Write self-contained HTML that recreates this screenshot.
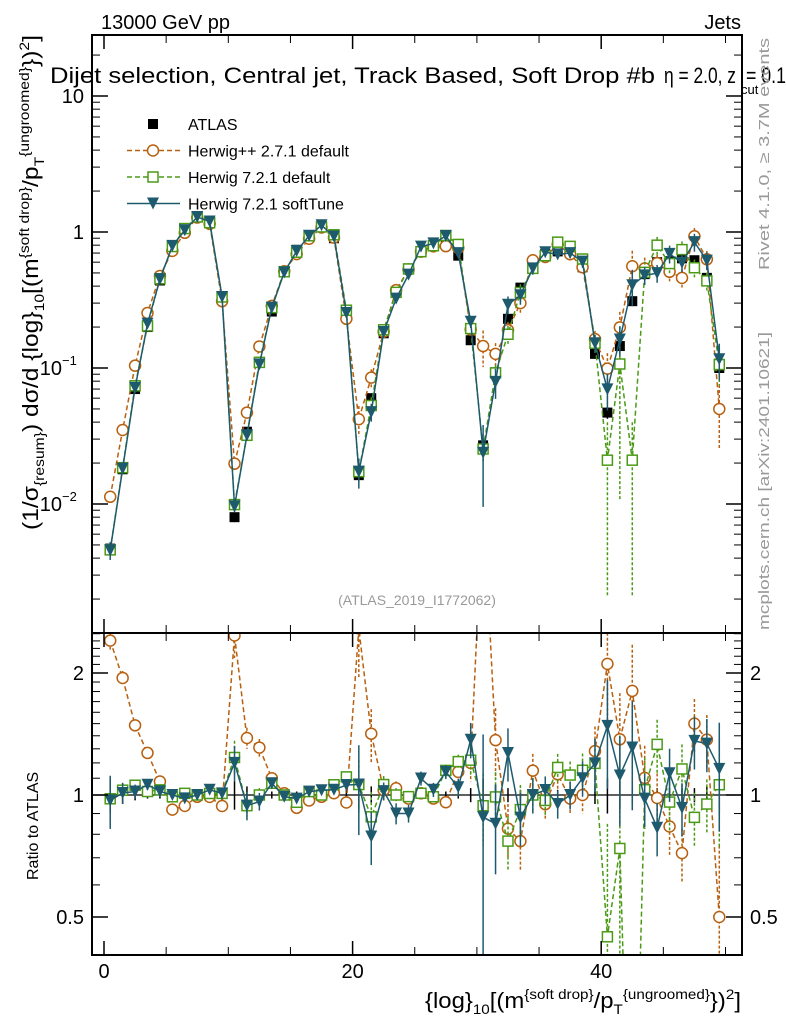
<!DOCTYPE html>
<html><head><meta charset="utf-8"><style>
html,body{margin:0;padding:0;background:#fff;overflow:hidden;width:786px;height:1024px;}
svg{display:block;font-family:"Liberation Sans",sans-serif;}
</style></head><body>
<svg id="chart" width="786" height="1024" viewBox="0 0 786 1024" xmlns="http://www.w3.org/2000/svg">
<defs>
<clipPath id="cm"><rect x="92" y="35" width="650" height="598"/></clipPath>
<clipPath id="cr"><rect x="92" y="633" width="650" height="322"/></clipPath>
</defs>
<g id="grid"></g>
<g id="mainMarks" clip-path="url(#cm)"></g>
<g id="ratioMarks" clip-path="url(#cr)"></g>
<rect x="92" y="35" width="650" height="598" fill="none" stroke="#000" stroke-width="2"/>
<rect x="92" y="633" width="650" height="322" fill="none" stroke="#000" stroke-width="2"/>
<g id="axes"></g>
<text x="101" y="29" font-size="20">13000 GeV pp</text>
<text x="741" y="29" font-size="20" text-anchor="end">Jets</text>
<text x="50" y="83" font-size="22" textLength="605" lengthAdjust="spacingAndGlyphs">Dijet selection, Central jet, Track Based, Soft Drop #b</text>
<text x="664" y="83" font-size="22" textLength="72" lengthAdjust="spacingAndGlyphs">η = 2.0, z</text>
<text x="741" y="94" font-size="13">cut</text>
<text x="746" y="83" font-size="22" textLength="40" lengthAdjust="spacingAndGlyphs">= 0.1</text>
<text x="417" y="605" font-size="14" fill="#999" text-anchor="middle">(ATLAS_2019_I1772062)</text>
<text transform="translate(769,270) rotate(-90)" font-size="15" fill="#999" textLength="232" lengthAdjust="spacingAndGlyphs">Rivet 4.1.0, ≥ 3.7M events</text>
<text transform="translate(769,630) rotate(-90)" font-size="15" fill="#999" textLength="298" lengthAdjust="spacingAndGlyphs">mcplots.cern.ch [arXiv:2401.10621]</text>
<text transform="translate(38,530) rotate(-90)" font-size="22" textLength="495" lengthAdjust="spacingAndGlyphs">(1/σ<tspan font-size="14" dy="6">{resum}</tspan><tspan dy="-6">) dσ/d {log}</tspan><tspan font-size="14" dy="6">10</tspan><tspan dy="-6">[(m</tspan><tspan font-size="14" dy="-9">{soft drop}</tspan><tspan dy="9">/p</tspan><tspan font-size="14" dy="6">T</tspan><tspan font-size="14" dy="-15">{ungroomed}</tspan><tspan dy="9">})</tspan><tspan font-size="14" dy="-9">2</tspan><tspan dy="9">]</tspan></text>
<text transform="translate(38,880) rotate(-90)" font-size="16">Ratio to ATLAS</text>
<text x="425" y="1008" font-size="22" textLength="316" lengthAdjust="spacingAndGlyphs">{log}<tspan font-size="14" dy="6">10</tspan><tspan dy="-6">[(m</tspan><tspan font-size="14" dy="-9">{soft drop}</tspan><tspan dy="9">/p</tspan><tspan font-size="14" dy="6">T</tspan><tspan font-size="14" dy="-15">{ungroomed}</tspan><tspan dy="9">})</tspan><tspan font-size="14" dy="-9">2</tspan><tspan dy="9">]</tspan></text>
<g id="legend"></g>
</svg>
<script>
const NS="http://www.w3.org/2000/svg";
const binCenters=[0.5,1.5,2.5,3.5,4.5,5.5,6.5,7.5,8.5,9.5,10.5,11.5,12.5,13.5,14.5,15.5,16.5,17.5,18.5,19.5,20.5,21.5,22.5,23.5,24.5,25.5,26.5,27.5,28.5,29.5,30.5,31.5,32.5,33.5,34.5,35.5,36.5,37.5,38.5,39.5,40.5,41.5,42.5,43.5,44.5,45.5,46.5,47.5,48.5,49.5];
const atlas=[0.0047,0.018,0.07,0.2,0.44,0.79,1.05,1.29,1.16,0.33,0.008,0.034,0.11,0.26,0.51,0.74,0.92,1.09,0.9,0.24,0.0163,0.06,0.18,0.36,0.54,0.71,0.8,0.82,0.67,0.16,0.027,0.093,0.23,0.39,0.54,0.69,0.72,0.70,0.55,0.127,0.047,0.145,0.31,0.49,0.6,0.61,0.64,0.62,0.46,0.1];
const atlasErr=[0.1,0.05,0.03,0.02,0.02,0.02,0.02,0.02,0.02,0.03,0.08,0.05,0.03,0.02,0.02,0.02,0.02,0.02,0.02,0.03,0.08,0.05,0.03,0.02,0.02,0.02,0.02,0.02,0.02,0.04,0.1,0.06,0.04,0.03,0.03,0.03,0.03,0.03,0.03,0.05,0.1,0.08,0.05,0.04,0.04,0.04,0.04,0.04,0.05,0.1];
const herwigPP=[0.0113,0.035,0.104,0.254,0.475,0.727,0.987,1.277,1.148,0.31,0.0198,0.047,0.144,0.286,0.515,0.688,0.892,1.079,0.909,0.23,0.042,0.085,0.185,0.374,0.529,0.717,0.784,0.787,0.764,0.192,0.145,0.127,0.19,0.30,0.62,0.655,0.81,0.686,0.55,0.163,0.099,0.199,0.56,0.54,0.59,0.51,0.46,0.93,0.63,0.05];
const herwigPPErr=[0.05,0.04,0.03,0.03,0.03,0.02,0.02,0.02,0.02,0.03,0.12,0.06,0.05,0.03,0.02,0.02,0.02,0.02,0.02,0.03,0.25,0.15,0.05,0.04,0.03,0.03,0.03,0.03,0.04,0.1,0.3,0.2,0.15,0.15,0.1,0.08,0.08,0.08,0.1,0.15,0.3,0.3,0.3,0.2,0.15,0.15,0.15,0.15,0.15,0.5];
const herwig721=[0.0046,0.0185,0.074,0.204,0.453,0.782,1.06,1.29,1.17,0.333,0.0099,0.032,0.11,0.278,0.51,0.71,0.938,1.09,0.954,0.266,0.0173,0.053,0.191,0.36,0.535,0.717,0.792,0.943,0.81,0.195,0.0254,0.092,0.177,0.359,0.54,0.669,0.842,0.784,0.633,0.152,0.021,0.107,0.021,0.505,0.80,0.586,0.742,0.546,0.437,0.106];
const herwig721Err=[0.05,0.04,0.03,0.03,0.03,0.02,0.02,0.02,0.02,0.03,0.1,0.06,0.04,0.03,0.02,0.02,0.02,0.02,0.02,0.03,0.15,0.15,0.05,0.04,0.03,0.03,0.03,0.03,0.04,0.08,0.2,0.15,0.15,0.15,0.1,0.08,0.08,0.08,0.1,0.15,0.9,0.9,0.9,0.2,0.15,0.15,0.15,0.15,0.15,0.3];
const softTune=[0.00456,0.0182,0.0714,0.212,0.449,0.79,1.03,1.29,1.195,0.333,0.0096,0.032,0.106,0.278,0.505,0.725,0.938,1.12,0.927,0.254,0.0173,0.0474,0.184,0.324,0.486,0.78,0.824,0.935,0.70,0.219,0.0238,0.079,0.292,0.343,0.54,0.71,0.684,0.70,0.605,0.152,0.0696,0.162,0.406,0.48,0.498,0.69,0.595,0.843,0.616,0.116];
const softTuneErr=[0.15,0.06,0.04,0.03,0.03,0.02,0.02,0.02,0.02,0.03,0.1,0.08,0.05,0.03,0.02,0.02,0.02,0.02,0.02,0.03,0.25,0.15,0.05,0.06,0.05,0.04,0.04,0.04,0.05,0.1,0.6,0.25,0.15,0.15,0.1,0.08,0.08,0.08,0.1,0.15,0.3,0.25,0.3,0.15,0.15,0.15,0.15,0.15,0.15,0.3];
const xTicksMajor=[0,20,40];
const xTicksMinor=[5,10,15,25,30,35,45,50];
const mainTickValues=[10,1,0.1,0.01];
const mainTickLabels=["10","1","10","10"];
const mainTickExps=["","","−1","−2"];
const ratioTickValues=[2,1,0.5];
const ratioTickLabels=["2","1","0.5"];

const X=v=>104+12.43*v;
const YM=v=>232-136*Math.log10(v);
const YR=r=>795-122*Math.log2(r);

function mk(tag,attrs,parent){const e=document.createElementNS(NS,tag);for(const k in attrs)e.setAttribute(k,attrs[k]);parent.appendChild(e);return e;}
const axes=document.getElementById('axes');
const mainG=document.getElementById('mainMarks');
const ratioG=document.getElementById('ratioMarks');

[[35,1],[633,1],[633,-1],[955,-1]].forEach(([y,d])=>{
  xTicksMajor.forEach(t=>{const l=mk('line',{x1:X(t),x2:X(t),y1:y,y2:y+d*14,stroke:'#000','stroke-width':1.5},axes);
    });
  xTicksMinor.forEach(t=>{const l=mk('line',{x1:X(t),x2:X(t),y1:y,y2:y+d*8,stroke:'#000','stroke-width':1},axes);
    });
});
xTicksMajor.forEach(t=>{const tx=mk('text',{x:X(t),y:978,'font-size':20,'text-anchor':'middle'},axes);tx.textContent=String(t);
  });
for(let d=-3;d<=1;d++){for(let m=1;m<=9;m++){const v=m*Math.pow(10,d);const y=YM(v);if(y<35||y>633)continue;
  const len=m===1?16:8;
  [[92,1],[742,-1]].forEach(([x,s])=>{const l=mk('line',{x1:x,x2:x+s*len,y1:y,y2:y,stroke:'#000','stroke-width':m===1?1.5:1},axes);
    });}}
mainTickValues.forEach((v,i)=>{const y=YM(v);
  const tx=mk('text',{x:mainTickExps[i]?62:84,y:y+7,'font-size':20,'text-anchor':'end'},axes);tx.textContent=mainTickLabels[i];
  
  if(mainTickExps[i]){const e=mk('text',{x:62,y:y-3,'font-size':13},axes);e.textContent=mainTickExps[i];
    }});
[0.4,0.5,0.6,0.7,0.8,0.9,1,1.1,1.2,1.3,1.4,1.5,1.6,1.7,1.8,1.9,2,2.1,2.2,2.3,2.4,2.5].forEach(v=>{const y=YR(v);if(y<633||y>955)return;
  const maj=ratioTickValues.includes(v);
  [[92,1],[742,-1]].forEach(([x,s])=>{const l=mk('line',{x1:x,x2:x+s*(maj?16:8),y1:y,y2:y,stroke:'#000','stroke-width':maj?1.5:1},axes);
    });});
ratioTickValues.forEach((v,i)=>{const y=YR(v);
  const a=mk('text',{x:84,y:y+7,'font-size':20,'text-anchor':'end'},axes);a.textContent=ratioTickLabels[i];
  
  const b=mk('text',{x:750,y:y+7,'font-size':20},axes);b.textContent=ratioTickLabels[i];
  });
const one=mk('line',{x1:92,x2:742,y1:YR(1),y2:YR(1),stroke:'#000','stroke-width':1.2},ratioG);


function marker(kind,x,y,color,g){
  let e;
  if(kind==='sq') e=mk('rect',{x:x-5,y:y-5,width:10,height:10,fill:'#000'},g);
  else if(kind==='osq') e=mk('rect',{x:x-5,y:y-5,width:10,height:10,fill:'#fff',stroke:color,'stroke-width':1.5},g);
  else if(kind==='oc') e=mk('circle',{cx:x,cy:y,r:5.5,fill:'#fff',stroke:color,'stroke-width':1.5},g);
  else e=mk('path',{d:`M${x-6},${y-6}L${x+6},${y-6}L${x},${y+6}Z`,fill:color},g);
  return e;
}
function drawSeries(vals,errs,color,dash,kind,name){
  const gM=mk('g',{},mainG);
  const gR=mk('g',{},ratioG);
  const ptsM=[],ptsR=[];
  vals.forEach((v,i)=>{ptsM.push(X(binCenters[i])+','+YM(v));ptsR.push(X(binCenters[i])+','+YR(v/atlas[i]));});
  if(kind!=='sq'){
    const lm=mk('polyline',{points:ptsM.join(' '),fill:'none',stroke:color,'stroke-width':1.5,'stroke-dasharray':dash},gM);
    
    const lr=mk('polyline',{points:ptsR.join(' '),fill:'none',stroke:color,'stroke-width':1.5,'stroke-dasharray':dash},gR);
    
  }
  vals.forEach((v,i)=>{
    const x=X(binCenters[i]);const e=errs[i];
    [[gM,YM(v*(1+e)),YM(Math.max(v*(1-e),1e-5))],[gR,YR(v/atlas[i]*(1+e)),YR(Math.max(v/atlas[i]*(1-e),0.01))]].forEach(([g,y1,y2])=>{
      const b=mk('line',{x1:x,x2:x,y1:y1,y2:y2,stroke:color,'stroke-width':1.5,'stroke-dasharray':kind==='sq'||kind==='tri'?'':'3,2'},g);
      
    });
    const m=marker(kind,x,YM(v),color,gM);
    
    if(kind!=='sq'){const r=marker(kind,x,YR(v/atlas[i]),color,gR);
      }
  });
}
drawSeries(atlas,atlasErr,'#000','','sq','atlas');
drawSeries(herwigPP,herwigPPErr,'#b8600f','5,3','oc','herwigpp-271');
drawSeries(herwig721,herwig721Err,'#4a9a16','5,3','osq','herwig-721-default');
drawSeries(softTune,softTuneErr,'#1e5a6e','','tri','herwig-721-softtune');

const lg=document.getElementById('legend');
const entries=[['ATLAS','#000','','sq'],['Herwig++ 2.7.1 default','#b8600f','5,3','oc'],['Herwig 7.2.1 default','#4a9a16','5,3','osq'],['Herwig 7.2.1 softTune','#1e5a6e','','tri']];
entries.forEach((en,i)=>{const y=124+26.5*i;
  const g=mk('g',{},lg);
  if(en[3]!=='sq'){const l=mk('line',{x1:127,x2:180,y1:y,y2:y,stroke:en[1],'stroke-width':1.5,'stroke-dasharray':en[2]},g);
    }
  const m=marker(en[3],153,y,en[1],g);
  const t=mk('text',{x:188,y:y+6,'font-size':16},g);t.textContent=en[0];
  
});
</script>
</body></html>
